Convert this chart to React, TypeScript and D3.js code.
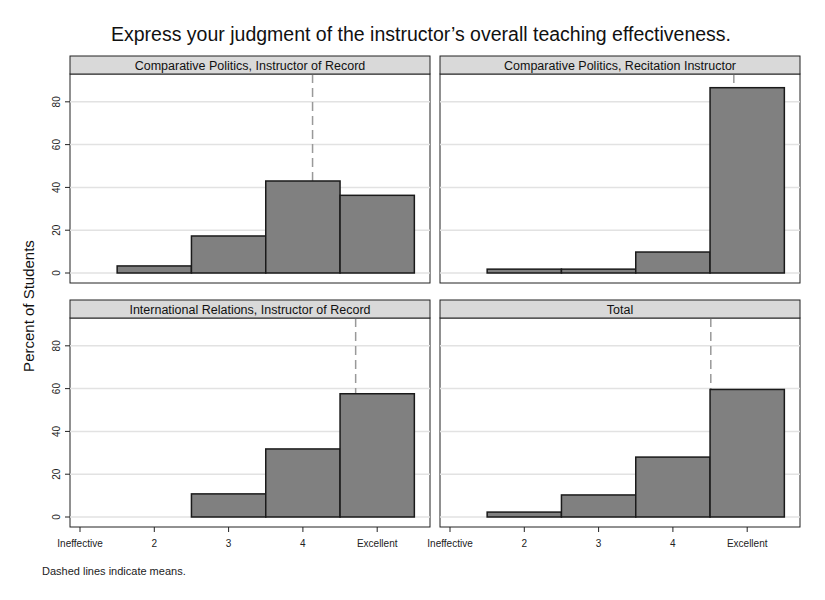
import * as d3 from "d3";
import React from "react";

const categories = ["Ineffective", "2", "3", "4", "Excellent"];
const yTicks = [0, 20, 40, 60, 80];
const panelTitles = [
  "Comparative Politics, Instructor of Record",
  "Comparative Politics, Recitation Instructor",
  "International Relations, Instructor of Record",
  "Total",
];
// percent for ratings 1..5
const cpRecord = [0, 3.3, 17.3, 43, 36.3];
const cpRecitation = [0, 1.8, 1.8, 9.8, 86.6];
const irRecord = [0, 0, 10.8, 31.8, 57.6];
const total = [0, 2.3, 10.3, 28, 59.6];
const means = [4.13, 4.82, 4.71, 4.51];
const series = [cpRecord, cpRecitation, irRecord, total];

const Panel: React.FC<{ x0: number; y0: number; title: string; values: number[]; mean: number; left: boolean; bottom: boolean }> = ({ x0, y0, title, values, mean, left, bottom }) => {
  const w = 360, strip = 18, plotH = 209;
  const x = d3.scaleLinear().domain([1, 5]).range([x0 + 10, x0 + 10 + 4 * 74.3]);
  const y = d3.scaleLinear().domain([0, 93]).range([y0 + strip + plotH - 10, y0 + strip]);
  const bw = 74.3;
  const top = y0 + strip, base = y0 + strip + plotH;
  return (
    <g>
      <rect x={x0} y={top} width={w} height={plotH} fill="white" stroke="#222" strokeWidth={1} />
      {yTicks.map(t => (
        <g key={t}>
          <line x1={x0} x2={x0 + w} y1={y(t)} y2={y(t)} stroke="#e2e2e2" strokeWidth={1.5} />
          {left && <line x1={x0 - 5} x2={x0} y1={y(t)} y2={y(t)} stroke="#222" />}
          {left && (
            <text transform={`translate(${x0 - 10},${y(t)}) rotate(-90)`} textAnchor="middle" fontSize={10} fill="#222">{t}</text>
          )}
        </g>
      ))}
      <line x1={x(mean)} x2={x(mean)} y1={top} y2={y(0)} stroke="#999" strokeWidth={1.5} strokeDasharray="9,5" />
      {values.map((v, i) => v > 0 && (
        <rect key={i} x={x(i + 1) - bw / 2} y={y(v)} width={bw} height={y(0) - y(v)} fill="#808080" stroke="#1a1a1a" strokeWidth={1.5} />
      ))}
      <rect x={x0} y={y0} width={w} height={strip} fill="#d9d9d9" stroke="#222" strokeWidth={1} />
      <text x={x0 + w / 2} y={y0 + 13.5} textAnchor="middle" fontSize={12.5} fill="#111">{title}</text>
      {bottom && categories.map((c, i) => (
        <g key={c}>
          <line x1={x(i + 1)} x2={x(i + 1)} y1={base} y2={base + 5} stroke="#222" />
          <text x={x(i + 1)} y={base + 20} textAnchor="middle" fontSize={10} fill="#222">{c}</text>
        </g>
      ))}
    </g>
  );
};

export default function App() {
  const pos = [[70, 56], [440, 56], [70, 300], [440, 300]];
  return (
    <svg width={825} height={600} style={{ background: "white", fontFamily: "Liberation Sans, Arial, sans-serif", display: "block", margin: -8 }}>
      <text x={421} y={41} textAnchor="middle" fontSize={19.5} fill="#111">Express your judgment of the instructor’s overall teaching effectiveness.</text>
      {series.map((s, i) => (
        <Panel key={i} x0={pos[i][0]} y0={pos[i][1]} title={panelTitles[i]} values={s} mean={means[i]} left={i % 2 === 0} bottom={i >= 2} />
      ))}
      <text transform="translate(34,306) rotate(-90)" textAnchor="middle" fontSize={15} fill="#111">Percent of Students</text>
      <text x={42} y={575} fontSize={11} fill="#222">Dashed lines indicate means.</text>
    </svg>
  );
}
